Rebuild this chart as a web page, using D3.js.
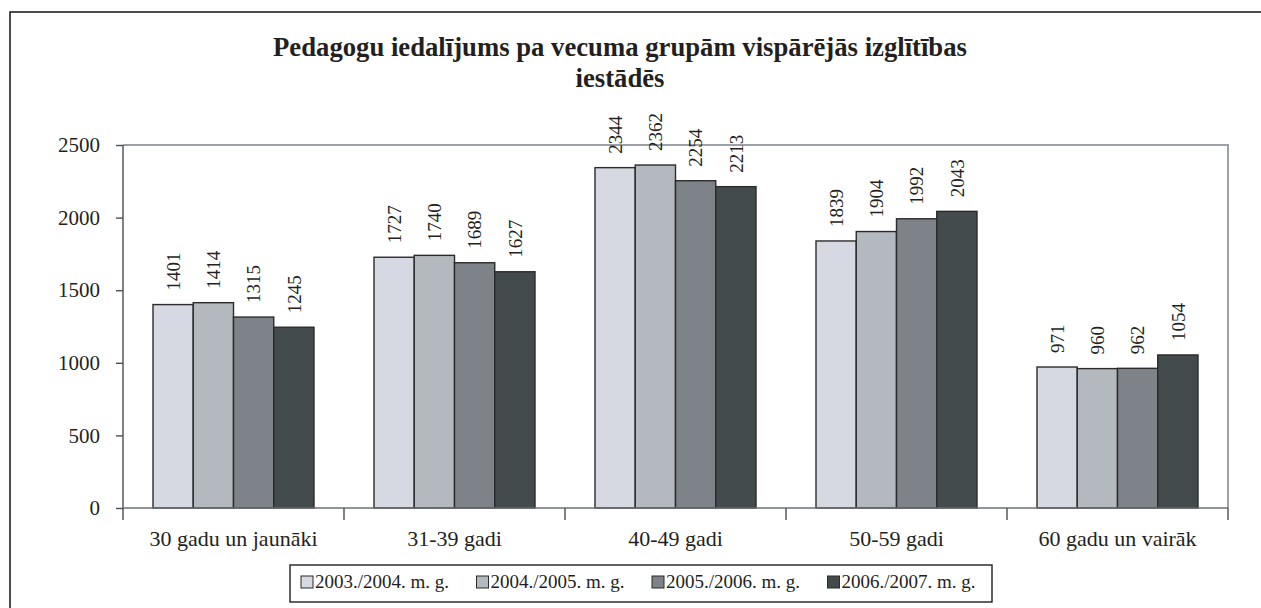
<!DOCTYPE html>
<html>
<head>
<meta charset="utf-8">
<script src="https://cdn.jsdelivr.net/npm/d3@7"></script>
<style>
	body { margin: 0; background: #fff; }
	text { font-family: 'Liberation Serif', 'Times New Roman', serif; fill: #231f20; }
</style>
</head>
<body>
<div class="content"></div>
<script>
const w = 1261;
const h = 608;

const categories = ['30 gadu un jaunāki', '31-39 gadi', '40-49 gadi', '50-59 gadi', '60 gadu un vairāk'];
const seriesNames = ['2003./2004. m. g.', '2004./2005. m. g.', '2005./2006. m. g.', '2006./2007. m. g.'];
const values2003 = [1401, 1727, 2344, 1839, 971];
const values2004 = [1414, 1740, 2362, 1904, 960];
const values2005 = [1315, 1689, 2254, 1992, 962];
const values2006 = [1245, 1627, 2213, 2043, 1054];
const yTicks = [0, 500, 1000, 1500, 2000, 2500];
const colors = ['#d6d9e1', '#b3b9bf', '#7d8389', '#434b4d'];

const series = [values2003, values2004, values2005, values2006];

const plot = { left: 123, right: 1228, top: 145, bottom: 508 };

const svg = d3.select('.content').append('svg')
	.attr('width', w)
	.attr('height', h);

// outer frame, runs off the right and bottom edges
svg.append('rect')
	.attr('x', 10)
	.attr('y', 12)
	.attr('width', 1400)
	.attr('height', 800)
	.attr('fill', 'none')
	.attr('stroke', '#231f20')
	.attr('stroke-width', 1.6);

const title = svg.append('text')
	.attr('text-anchor', 'middle')
	.style('font-weight', 'bold')
	.style('font-size', '26.7px');

title.append('tspan')
	.attr('x', 620)
	.attr('y', 56)
	.text('Pedagogu iedalījums pa vecuma grupām vispārējās izglītības');

title.append('tspan')
	.attr('x', 620)
	.attr('y', 87)
	.text('iestādēs');

const xScale = d3.scaleBand()
	.domain(categories)
	.range([plot.left, plot.right]);

const inner = d3.scaleBand()
	.domain(d3.range(series.length))
	.range([30, xScale.bandwidth() - 30]);

const yScale = d3.scaleLinear()
	.domain([0, 2500])
	.range([plot.bottom, plot.top]);

// plot border (top and right)
svg.append('path')
	.attr('d', `M${plot.left},${plot.top}H${plot.right}V${plot.bottom}`)
	.attr('fill', 'none')
	.attr('stroke', '#9aa1a7')
	.attr('stroke-width', 2);

const groups = svg.selectAll('.group')
	.data(categories)
	.enter()
	.append('g')
	.attr('class', 'group')
	.attr('transform', (d) => 'translate(' + xScale(d) + ',0)');

series.forEach((vals, s) => {
	groups.append('rect')
		.attr('x', inner(s))
		.attr('y', (d, i) => yScale(vals[i]))
		.attr('width', inner.bandwidth())
		.attr('height', (d, i) => plot.bottom - yScale(vals[i]))
		.attr('fill', colors[s])
		.attr('stroke', '#2b2b2b')
		.attr('stroke-width', 1.4);

	groups.append('text')
		.attr('transform', (d, i) => 'translate(' + (inner(s) + inner.bandwidth() / 2) + ',' + (yScale(vals[i]) - 14) + ') rotate(-90)')
		.attr('dy', '0.35em')
		.style('font-size', '19px')
		.text((d, i) => vals[i]);
});

const yAxis = d3.axisLeft(yScale)
	.tickValues(yTicks)
	.tickFormat(d3.format('d'))
	.tickSize(7)
	.tickPadding(16);

const yG = svg.append('g')
	.attr('transform', 'translate(' + plot.left + ',0)')
	.call(yAxis);

yG.selectAll('text')
	.style('font-size', '21px')
	.attr('font-family', null);

yG.selectAll('line, path')
	.attr('stroke', '#4a4f53')
	.attr('stroke-width', 1.4);

yG.select('.domain')
	.attr('d', `M0,${plot.top}V${plot.bottom}`);

// category axis with ticks between the groups
const xG = svg.append('g')
	.attr('transform', 'translate(0,' + plot.bottom + ')');

xG.append('line')
	.attr('x1', plot.left)
	.attr('x2', plot.right)
	.attr('stroke', '#6b7075')
	.attr('stroke-width', 1.6);

const boundaries = categories.map((d) => xScale(d)).concat([plot.right]);

xG.selectAll('.tick')
	.data(boundaries)
	.enter()
	.append('line')
	.attr('x1', (d) => d)
	.attr('x2', (d) => d)
	.attr('y1', 0)
	.attr('y2', 12)
	.attr('stroke', '#4a4f53')
	.attr('stroke-width', 1.4);

xG.selectAll('.cat')
	.data(categories)
	.enter()
	.append('text')
	.attr('x', (d) => xScale(d) + xScale.bandwidth() / 2)
	.attr('y', 38)
	.attr('text-anchor', 'middle')
	.style('font-size', '22px')
	.text((d) => d);

// legend
const legend = svg.append('g')
	.attr('id', 'legend');

legend.append('rect')
	.attr('x', 290)
	.attr('y', 565)
	.attr('width', 702)
	.attr('height', 37)
	.attr('fill', '#fff')
	.attr('stroke', '#231f20')
	.attr('stroke-width', 1.4);

const item = legend.selectAll('.item')
	.data(seriesNames)
	.enter()
	.append('g')
	.attr('transform', (d, i) => 'translate(' + (301 + i * 175.5) + ',576)');

item.append('rect')
	.attr('width', 12)
	.attr('height', 12)
	.attr('fill', (d, i) => colors[i])
	.attr('stroke', '#2b2b2b')
	.attr('stroke-width', 1);

item.append('text')
	.attr('x', 14)
	.attr('y', 12)
	.style('font-size', '19px')
	.text((d) => d);
</script>
</body>
</html>
